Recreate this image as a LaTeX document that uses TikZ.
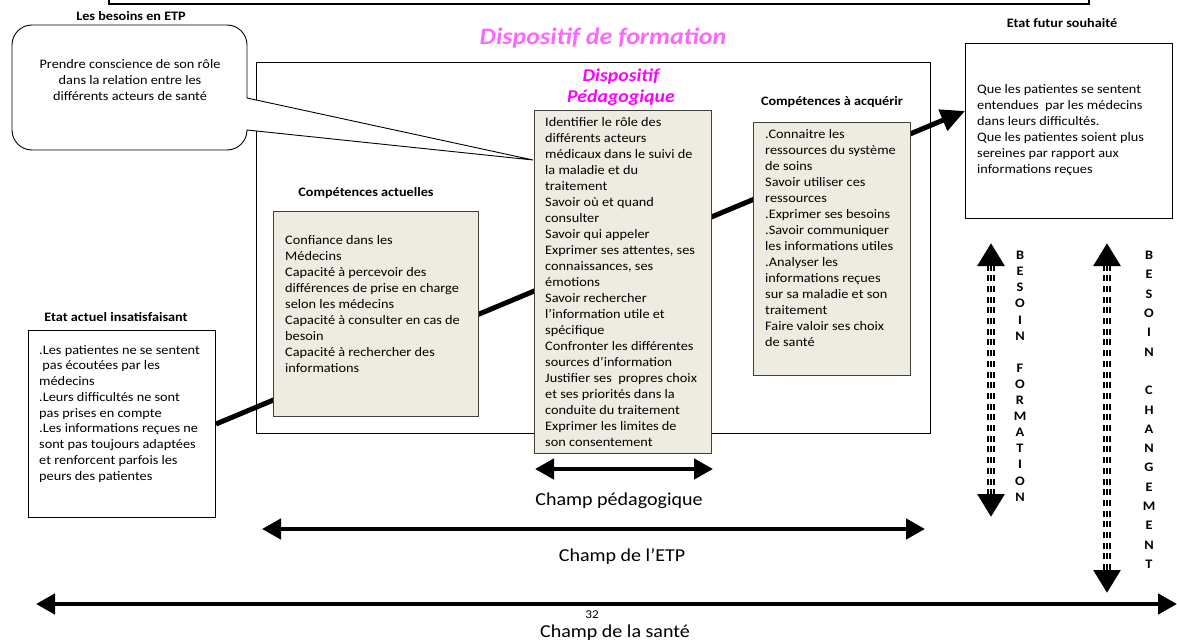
\documentclass[tikz,border=0pt]{standalone}
\usepackage{fontspec}
\setmainfont{Carlito}[FakeStretch=1.1]
\usepackage{tikz}
\usetikzlibrary{arrows.meta,calc}
\definecolor{beige}{HTML}{EEECE1}
\definecolor{rose}{HTML}{FF66FF}
\definecolor{fuchsia}{HTML}{FF00FF}
\tikzstyle{cadre}=[draw=black,line width=0.9pt,inner sep=0pt,anchor=north west]
\tikzstyle{boite}=[draw=black,line width=1pt,fill=white,inner sep=0pt,anchor=north west]
\tikzstyle{competence}=[draw=black!75,line width=1.4pt,fill=beige,inner sep=0pt,
anchor=north west]
\tikzstyle{titre}=[font=\bfseries\fontsize{12.9}{15}\selectfont]
\tikzstyle{texte}=[anchor=north west,inner sep=0pt,align=left,
font=\fontsize{13}{16}\selectfont]
\tikzstyle{champ}=[line width=4.5pt,{Triangle[length=19pt,width=20pt]}-{Triangle[length=19pt,width=20pt]}]
\tikzstyle{nomchamp}=[font=\fontsize{18.2}{21}\selectfont]
\tikzstyle{progression}=[line width=5pt,-{Triangle[length=24pt,width=22pt]}]
\tikzstyle{besoin}=[line width=8pt,dash pattern=on 6pt off 4.7pt,
{Triangle[length=23pt,width=26pt]}-{Triangle[length=23pt,width=26pt]}]
\tikzstyle{rayure}=[white,line width=0.7pt,shorten <=23pt,shorten >=23pt]
\tikzstyle{lettres}=[anchor=north,inner sep=0pt,align=center]

\begin{document}
\begin{tikzpicture}[x=1pt,y=-1pt]
  \useasboundingbox (0,0) rectangle (1177,642);
  % cadre du haut, coupe par la page
  \draw[line width=1.2pt] (109,-20) rectangle (1089,4);
  % dispositif de formation
  \node[cadre,minimum width=674pt,minimum height=371pt] (formation) at (256,62) {};
  \node[font=\bfseries\itshape\fontsize{23.6}{27}\selectfont,text=rose]
    (titre_formation) at (603,38) {Dispositif de formation};
  % etat actuel et etat futur
  \node[titre] (titre_actuel) at (116,317) {Etat actuel insatisfaisant};
  \node[boite,minimum width=187pt,minimum height=187pt] (etat_actuel) at (28,330) {};
  \node[texte,font=\fontsize{13}{15.75}\selectfont] (txt_actuel) at (39,345)
    {.Les patientes ne se sentent\\\ pas écoutées par les\\médecins\\
     .Leurs difficultés ne sont\\pas prises en compte\\.Les informations reçues ne\\
     sont pas toujours adaptées\\et renforcent parfois les\\peurs des patientes};
  \node[titre] (titre_futur) at (1062,23) {Etat futur souhaité};
  \node[boite,minimum width=207pt,minimum height=175pt] (etat_futur) at (965,43) {};
  \node[texte] (txt_futur) at (977,84)
    {Que les patientes se sentent\\entendues\ \ par les médecins\\
     dans leurs difficultés.\\Que les patientes soient plus\\
     sereines par rapport aux\\informations reçues};
  % la fleche de progression passe sous les competences
  \draw[progression] (etat_actuel.east) -- ($(etat_futur.west)+(0,-20)$);
  % competences
  \node[titre] (titre_comp_act) at (366,193) {Compétences actuelles};
  \node[competence,minimum width=205pt,minimum height=205pt] (comp_act) at (273,211) {};
  \node[texte] (txt_comp_act) at (285,235)
    {Confiance dans les\\Médecins\\Capacité à percevoir des\\
     différences de prise en charge\\selon les médecins\\
     Capacité à consulter en cas de\\besoin\\Capacité à rechercher des\\informations};
  \node[font=\bfseries\itshape\fontsize{18}{21}\selectfont,text=fuchsia,align=center]
    (titre_peda) at (621,87) {Dispositif\\Pédagogique};
  \node[competence,minimum width=177pt,minimum height=343pt] (peda) at (534,110) {};
  \node[texte] (txt_peda) at (545,117)
    {Identifier le rôle des\\différents acteurs\\médicaux dans le suivi de\\
     la maladie et du\\traitement\\Savoir où et quand\\consulter\\Savoir qui appeler\\
     Exprimer ses attentes, ses\\connaissances, ses\\émotions\\Savoir rechercher\\
     l’information utile et\\spécifique\\Confronter les différentes\\
     sources d’information\\Justifier ses\ \ propres choix\\et ses priorités dans la\\
     conduite du traitement\\Exprimer les limites de\\son consentement};
  \node[titre] (titre_comp_acq) at (832,102) {Compétences à acquérir};
  \node[competence,minimum width=157pt,minimum height=253pt] (comp_acq) at (753,122) {};
  \node[texte] (txt_comp_acq) at (765,129)
    {.Connaitre les\\ressources du système\\de soins\\Savoir utiliser ces\\
     ressources\\.Exprimer ses besoins\\.Savoir communiquer\\
     les informations utiles\\.Analyser les\\informations reçues\\
     sur sa maladie et son\\traitement\\Faire valoir ses choix\\de santé};
  % bulle des besoins
  \node[titre] (titre_besoins) at (131,16) {Les besoins en ETP};
  \coordinate (pointe) at ($(peda.north west)+(-1,50)$);
  \draw[line width=0.9pt,fill=white] (247,98) [rounded corners=20pt] -- (247,25)
    -- (12,25) -- (12,150) -- (247,150) [sharp corners] -- (247,130) -- (pointe) -- cycle;
  \node[texte,anchor=center,align=center] (txt_besoins) at (130,80)
    {Prendre conscience de son rôle\\dans la relation entre les\\différents acteurs de santé};
  % les champs
  \coordinate (peda_g) at (535,469);
  \coordinate (peda_d) at (713,469);
  \draw[champ] (peda_g) -- (peda_d);
  \node[nomchamp] (champ_peda) at (619,501) {Champ pédagogique};
  \coordinate (etp_g) at (262,529);
  \coordinate (etp_d) at (925,529);
  \draw[champ] (etp_g) -- (etp_d);
  \node[nomchamp] (champ_etp) at (622,557) {Champ de l’ETP};
  \coordinate (sante_g) at (36,604);
  \coordinate (sante_d) at (1177,604);
  \draw[champ] (sante_g) -- (sante_d);
  \node[font=\fontsize{12}{14}\selectfont,inner sep=0pt] (page) at (592,615) {32};
  \node[nomchamp,inner sep=0pt] (champ_sante) at (615,633) {Champ de la santé};
  % besoins de formation et de changement
  \coordinate (bf_haut) at (991,243);
  \coordinate (bf_bas) at (991,517);
  \draw[besoin] (bf_haut) -- (bf_bas);
  \draw[rayure] ([xshift=-1.5pt]bf_haut) -- ([xshift=-1.5pt]bf_bas);
  \draw[rayure] ([xshift=1.5pt]bf_haut) -- ([xshift=1.5pt]bf_bas);
  \node[lettres,font=\bfseries\fontsize{13}{16.1}\selectfont] (besoin_formation) at (1020,251)
    {B\\E\\S\\O\\I\\N\\[16.1pt]F\\O\\R\\M\\A\\T\\I\\O\\N};
  \coordinate (bc_haut) at (1107,243);
  \coordinate (bc_bas) at (1107,593);
  \draw[besoin] (bc_haut) -- (bc_bas);
  \draw[rayure] ([xshift=-1.5pt]bc_haut) -- ([xshift=-1.5pt]bc_bas);
  \draw[rayure] ([xshift=1.5pt]bc_haut) -- ([xshift=1.5pt]bc_bas);
  \node[lettres,font=\bfseries\fontsize{13}{19.3}\selectfont] (besoin_changement) at (1149,251)
    {B\\E\\S\\O\\I\\N\\[19.3pt]C\\H\\A\\N\\G\\E\\M\\E\\N\\T};
\end{tikzpicture}
\end{document}
